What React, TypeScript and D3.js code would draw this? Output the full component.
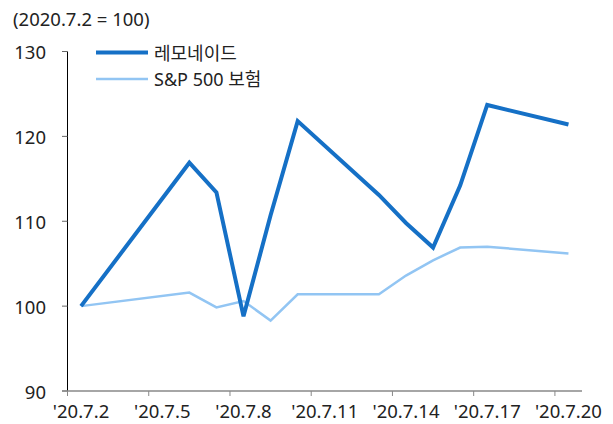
import React from "react";
import * as d3 from "d3";

const dates = ["2020-07-02","2020-07-06","2020-07-07","2020-07-08","2020-07-09","2020-07-10","2020-07-13","2020-07-14","2020-07-15","2020-07-16","2020-07-17","2020-07-20"];
const lemonade = [100, 116.9, 113.4, 98.8, 110.7, 121.8, 113.1, 109.8, 106.9, 114.2, 123.7, 121.4];
const spInsurance = [100, 101.6, 99.85, 100.6, 98.3, 101.4, 101.4, 103.6, 105.4, 106.9, 107.0, 106.2];
const tickDates = ["2020-07-02","2020-07-05","2020-07-08","2020-07-11","2020-07-14","2020-07-17","2020-07-20"];
const yTicks = [90, 100, 110, 120, 130];
const seriesNames = ["레모네이드", "S&P 500 보험"];
const title = "(2020.7.2 = 100)";

const FONT = "'Noto Sans', 'Noto Sans CJK KR', sans-serif";
const DARK = "#1570C6";
const LIGHT = "#92C5F3";

export default function App() {
  const parse = d3.timeParse("%Y-%m-%d");
  const ds = dates.map((d) => parse(d) as Date);
  const start = d3.timeHour.offset(parse("2020-07-02") as Date, -12);
  const end = d3.timeHour.offset(parse("2020-07-20") as Date, 12);
  const x = d3.scaleTime().domain([start, end]).range([67.5, 582]);
  const y = d3.scaleLinear().domain([90, 130]).range([391, 51.5]);

  const line = d3
    .line<number>()
    .x((_, i) => x(ds[i]))
    .y((v) => y(v));

  const ticks = tickDates.map((t) => parse(t) as Date);
  const boundaries = ticks.map((t) => d3.timeHour.offset(t, -12));
  const fmt = (d: Date) => `'${String(d.getFullYear()).slice(2)}.${d.getMonth() + 1}.${d.getDate()}`;

  return (
    <svg width={613} height={424} style={{ position: "absolute", left: 0, top: 0, fontFamily: FONT }}>
      <rect width={613} height={424} fill="#fff" />
      <text x={13} y={26} fontSize={18.5} fill="#222">{title}</text>
      {/* y axis */}
      <line x1={67.5} x2={67.5} y1={y(130)} y2={y(90)} stroke="#000" strokeWidth={1} />
      {yTicks.map((t) => (
        <g key={t}>
          <line x1={62} x2={67.5} y1={y(t)} y2={y(t)} stroke="#666" strokeWidth={1} />
          <text x={46} y={y(t)} textAnchor="end" dominantBaseline="central" fontSize={18.5} fill="#222">{t}</text>
        </g>
      ))}
      {/* x axis */}
      <line x1={62} x2={582} y1={y(90)} y2={y(90)} stroke="#888" strokeWidth={1.5} />
      {boundaries.map((b, i) => (
        <line key={i} x1={x(b)} x2={x(b)} y1={y(90)} y2={y(90) + 5} stroke="#888" strokeWidth={1} />
      ))}
      {ticks.map((t, i) => (
        <text key={i} x={x(t)} y={418} textAnchor="middle" fontSize={18.5} fill="#222">{fmt(t)}</text>
      ))}
      {/* series */}
      <path d={line(spInsurance) || ""} fill="none" stroke={LIGHT} strokeWidth={2.5} strokeLinejoin="miter" />
      <path d={line(lemonade) || ""} fill="none" stroke={DARK} strokeWidth={4} strokeLinejoin="miter" />
      {/* legend */}
      <line x1={96} x2={148} y1={52.5} y2={52.5} stroke={DARK} strokeWidth={4} />
      <text x={154} y={52.5} dominantBaseline="central" fontSize={18} fill="#222">{seriesNames[0]}</text>
      <line x1={96} x2={148} y1={79} y2={79} stroke={LIGHT} strokeWidth={2.5} />
      <text x={154} y={79} dominantBaseline="central" fontSize={18} fill="#222">{seriesNames[1]}</text>
    </svg>
  );
}
